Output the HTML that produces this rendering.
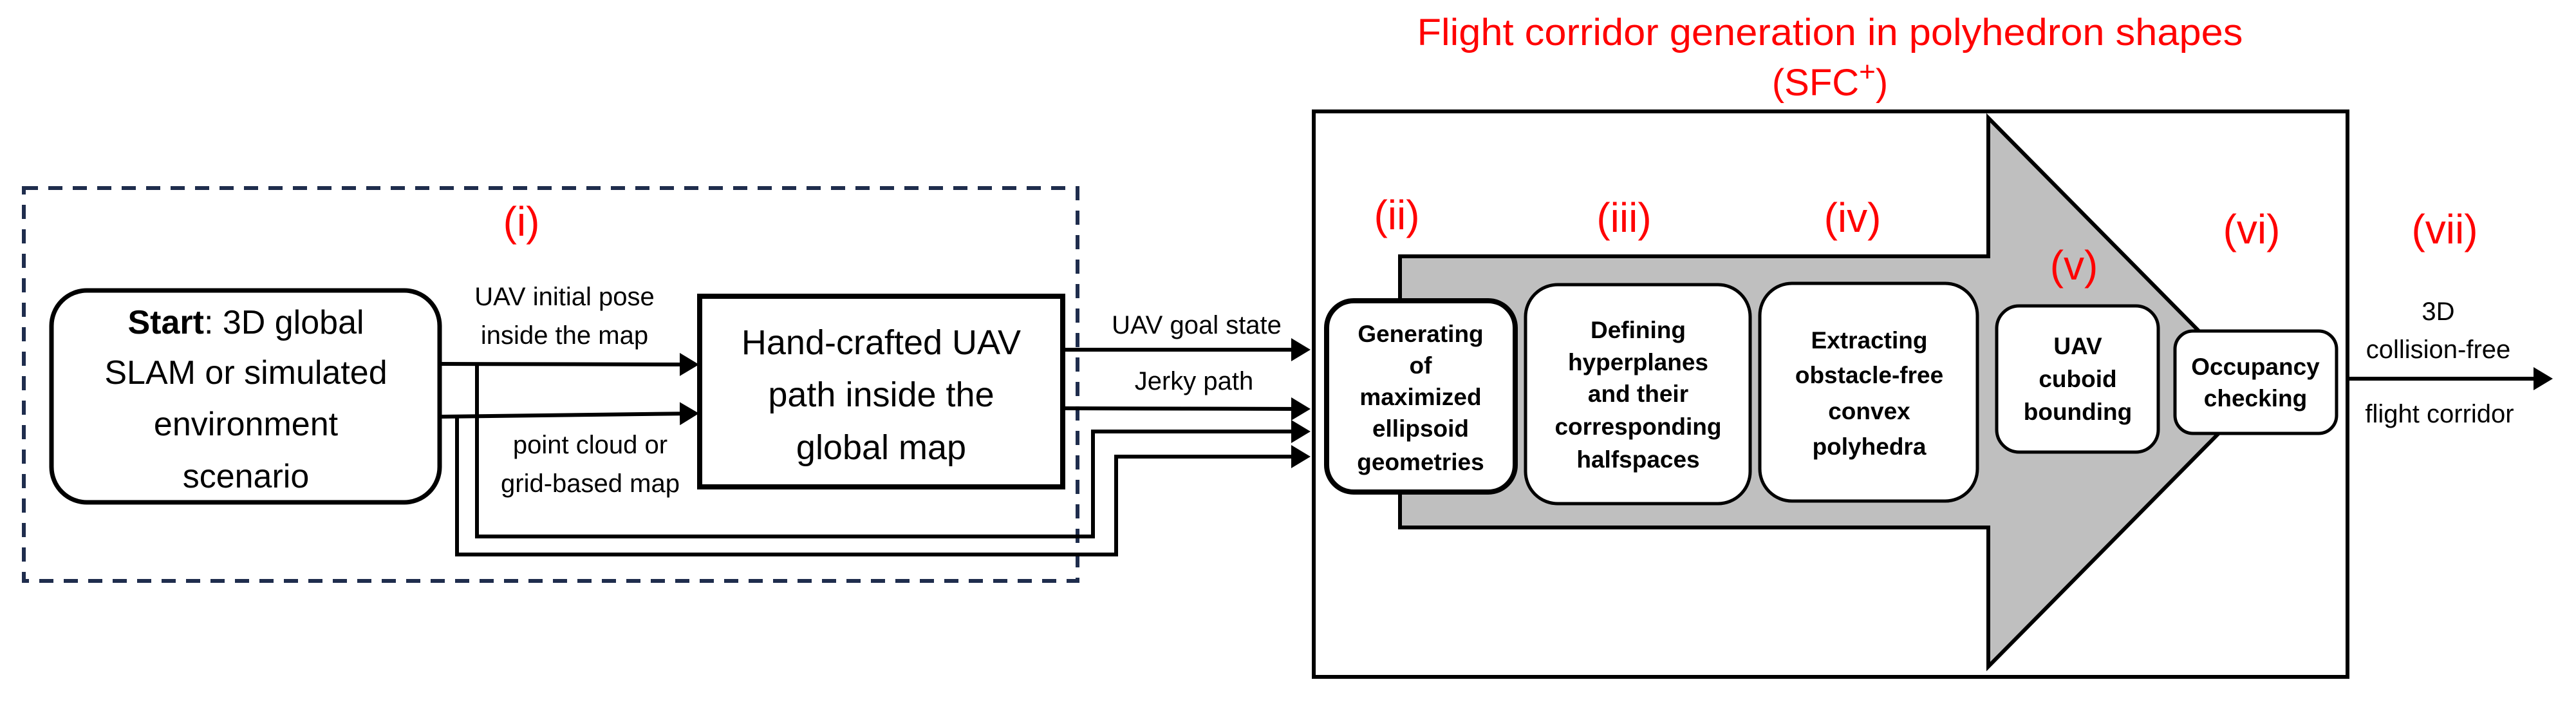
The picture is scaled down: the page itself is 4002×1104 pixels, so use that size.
<!DOCTYPE html>
<html><head><meta charset="utf-8"><style>
html,body{margin:0;padding:0;background:#fff;}
svg{display:block;}
text{font-family:"Liberation Sans",sans-serif;}
</style></head><body>
<svg width="4002" height="1104" viewBox="0 0 4002 1104" xmlns="http://www.w3.org/2000/svg">
<defs>
<marker id="ah" markerWidth="6" markerHeight="6" refX="4" refY="3" orient="auto" markerUnits="strokeWidth">
<path d="M0,0 L5,3 L0,6 Z" fill="#000"/>
</marker>
</defs>
<rect x="37" y="292" width="1637" height="610" fill="none" stroke="#1f2d4d" stroke-width="6" stroke-dasharray="22,16"/>
<text x="810" y="366" font-size="64" fill="#f00" text-anchor="middle">(i)</text>

<rect x="80" y="451" width="603" height="329" rx="55" fill="#fff" stroke="#000" stroke-width="7"/>
<g font-size="52" text-anchor="middle" fill="#000">
<text x="382" y="518"><tspan font-weight="bold">Start</tspan>: 3D global</text>
<text x="382" y="596">SLAM or simulated</text>
<text x="382" y="676">environment</text>
<text x="382" y="757">scenario</text>
</g>

<rect x="1087" y="460" width="564" height="296" fill="#fff" stroke="#000" stroke-width="8"/>
<g font-size="54" text-anchor="middle">
<text x="1369" y="550">Hand-crafted UAV</text>
<text x="1369" y="631">path inside the</text>
<text x="1369" y="713">global map</text>
</g>

<g stroke="#000" stroke-width="6" fill="none">
<line x1="683" y1="565" x2="1080" y2="566" marker-end="url(#ah)"/>
<line x1="683" y1="647" x2="1080" y2="642" marker-end="url(#ah)"/>
<polyline points="741,565 741,833 1698,833 1698,670 2030,670" marker-end="url(#ah)"/>
<polyline points="710,647 710,861 1734,861 1734,709 2030,709" marker-end="url(#ah)"/>
<line x1="1651" y1="543" x2="2030" y2="543" marker-end="url(#ah)"/>
<line x1="1651" y1="634" x2="2030" y2="635" marker-end="url(#ah)"/>
<line x1="3647" y1="588" x2="3960" y2="588" marker-end="url(#ah)"/>
</g>

<g font-size="40" text-anchor="middle">
<text x="877" y="474">UAV initial pose</text>
<text x="877" y="534">inside the map</text>
<text x="917" y="704">point cloud or</text>
<text x="917" y="764">grid-based map</text>
<text x="1859" y="518">UAV goal state</text>
<text x="1855" y="605">Jerky path</text>
<text x="3788" y="497">3D</text>
<text x="3788" y="556">collision-free</text>
<text x="3790" y="656">flight corridor</text>
</g>

<rect x="2041" y="173" width="1606" height="878" fill="#fff" stroke="#000" stroke-width="6"/>
<text x="2843" y="70" font-size="58" fill="#f00" text-anchor="middle" textLength="1283" lengthAdjust="spacingAndGlyphs">Flight corridor generation in polyhedron shapes</text>
<text x="2843" y="148" font-size="58" fill="#f00" text-anchor="middle">(SFC<tspan dy="-22" font-size="44">+</tspan><tspan dy="22">)</tspan></text>

<polygon points="2175,398 3089,398 3089,183 3510,609 3089,1035 3089,819 2175,819" fill="#bfbfbf" stroke="#000" stroke-width="6"/>

<g font-size="64" fill="#f00" text-anchor="middle">
<text x="2170" y="356">(ii)</text>
<text x="2523" y="360">(iii)</text>
<text x="2878" y="360">(iv)</text>
<text x="3222" y="434">(v)</text>
<text x="3498" y="378">(vi)</text>
<text x="3798" y="378">(vii)</text>
</g>

<rect x="2061" y="467" width="293" height="297" rx="42" fill="#fff" stroke="#000" stroke-width="8"/>
<rect x="2370" y="442" width="349" height="340" rx="50" fill="#fff" stroke="#000" stroke-width="5"/>
<rect x="2734" y="440" width="338" height="338" rx="50" fill="#fff" stroke="#000" stroke-width="5"/>
<rect x="3102" y="475" width="251" height="227" rx="35" fill="#fff" stroke="#000" stroke-width="5"/>
<rect x="3379" y="514" width="251" height="159" rx="28" fill="#fff" stroke="#000" stroke-width="5"/>

<g font-size="37" font-weight="bold" text-anchor="middle">
<text x="2207" y="531">Generating</text>
<text x="2207" y="580">of</text>
<text x="2207" y="629">maximized</text>
<text x="2207" y="678">ellipsoid</text>
<text x="2207" y="730">geometries</text>

<text x="2545" y="525">Defining</text>
<text x="2545" y="575">hyperplanes</text>
<text x="2545" y="624">and their</text>
<text x="2545" y="675">corresponding</text>
<text x="2545" y="726">halfspaces</text>

<text x="2904" y="541">Extracting</text>
<text x="2904" y="595">obstacle-free</text>
<text x="2904" y="651">convex</text>
<text x="2904" y="706">polyhedra</text>

<text x="3228" y="550">UAV</text>
<text x="3228" y="601">cuboid</text>
<text x="3228" y="652">bounding</text>

<text x="3504" y="582">Occupancy</text>
<text x="3504" y="631">checking</text>
</g>
</svg>
</body></html>
